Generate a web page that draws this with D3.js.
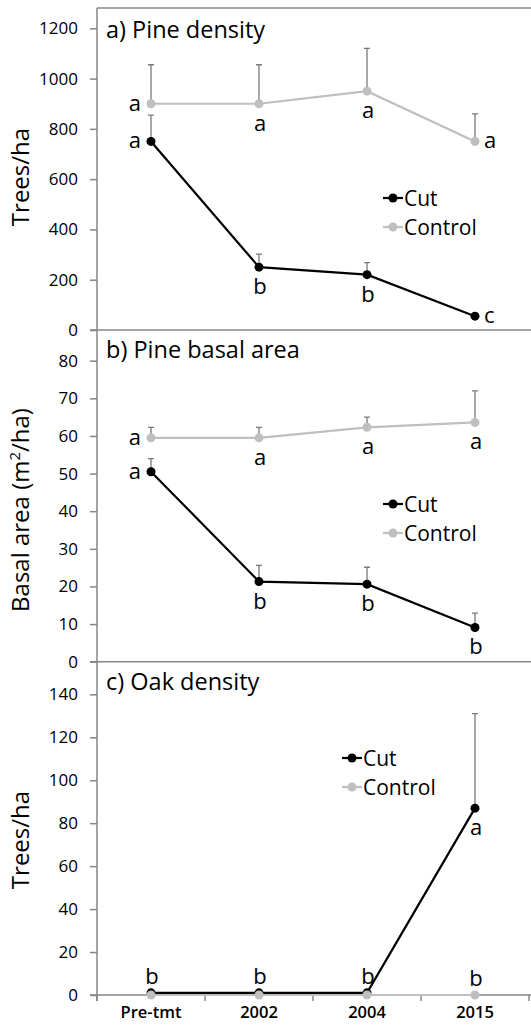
<!DOCTYPE html>
<html>
<head>
<meta charset="utf-8">
<script src="https://cdn.jsdelivr.net/npm/d3@7"></script>
<style>
  body { margin: 0; background: #fff; }
  svg { display: block; font-family: "Open Sans", sans-serif; }
</style>
</head>
<body>
<svg id="chart" width="531" height="1034"></svg>
<script>
// Categories along the x axis
const categories = ["Pre-tmt", "2002", "2004", "2015"];
const seriesNames = ["Cut", "Control"];

// a) Pine density (trees/ha)
const pineDensityCut = [750, 250, 220, 55];
const pineDensityCutErr = [105, 52, 48, 0];
const pineDensityControl = [900, 900, 950, 750];
const pineDensityControlErr = [155, 155, 170, 110];
const pineDensityCutLetters = ["a", "b", "b", "c"];
const pineDensityControlLetters = ["a", "a", "a", "a"];
const pineDensityTicks = [0, 200, 400, 600, 800, 1000, 1200];

// b) Pine basal area (m2/ha)
const basalCut = [50.5, 21.3, 20.6, 9.1];
const basalCutErr = [3.5, 4.3, 4.5, 3.8];
const basalControl = [59.5, 59.5, 62.3, 63.6];
const basalControlErr = [2.8, 2.8, 2.7, 8.4];
const basalCutLetters = ["a", "b", "b", "b"];
const basalControlLetters = ["a", "a", "a", "a"];
const basalTicks = [0, 10, 20, 30, 40, 50, 60, 70, 80];

// c) Oak density (trees/ha)
const oakCut = [1, 1, 1, 87];
const oakCutErr = [0, 0, 0, 44];
const oakControl = [0, 0, 0, 0];
const oakControlErr = [0, 0, 0, 0];
const oakCutLetters = ["b", "b", "b", "a"];
const oakControlLetters = ["", "", "", "b"];
const oakTicks = [0, 20, 40, 60, 80, 100, 120, 140];

const black = "#000000";
const grey = "#bfbfbf";
const axisGrey = "#868686";
const errGrey = "#7a7a7a";

const svg = d3.select("#chart");

// Shared x scale across the three stacked panels
const x = d3.scaleBand().domain(categories).range([97, 529]);
const cx = d => x(d) + x.bandwidth() / 2;

// Panel layout: vertical pixel ranges and label placements
const panels = [
    {
        title: "a) Pine density", yLabel: "Trees/ha", yLabelSup: null,
        top: 8, bottom: 330, yTopPx: 28.3, domainMax: 1200, ticks: pineDensityTicks,
        cut: pineDensityCut, cutErr: pineDensityCutErr, ctl: pineDensityControl, ctlErr: pineDensityControlErr,
        cutLet: pineDensityCutLetters, ctlLet: pineDensityControlLetters,
        cutPos: ["left", "below", "below", "right"], ctlPos: ["left", "below", "below", "right"],
        legendX: 383, legendY: 198, titleY: 38, labelY: 177
    },
    {
        title: "b) Pine basal area", yLabel: "Basal area (m", yLabelSup: "/ha)",
        top: 330, bottom: 661.7, yTopPx: 360.7, domainMax: 80, ticks: basalTicks,
        cut: basalCut, cutErr: basalCutErr, ctl: basalControl, ctlErr: basalControlErr,
        cutLet: basalCutLetters, ctlLet: basalControlLetters,
        cutPos: ["left", "below", "below", "below"], ctlPos: ["left", "below", "below", "below"],
        legendX: 383, legendY: 504, titleY: 358, labelY: 510
    },
    {
        title: "c) Oak density", yLabel: "Trees/ha", yLabelSup: null,
        top: 661.7, bottom: 995, yTopPx: 694.3, domainMax: 140, ticks: oakTicks,
        cut: oakCut, cutErr: oakCutErr, ctl: oakControl, ctlErr: oakControlErr,
        cutLet: oakCutLetters, ctlLet: oakControlLetters,
        cutPos: ["above", "above", "above", "below"], ctlPos: ["above", "above", "above", "above"],
        legendX: 342, legendY: 758, titleY: 690, labelY: 840
    }
];

panels.forEach((p, i) => {
    const y = d3.scaleLinear().domain([0, p.domainMax]).range([p.bottom, p.yTopPx]);
    const g = svg.append("g");

    // Frame: top border line of the first panel
    if (i === 0) {
        g.append("line").attr("x1", 97).attr("x2", 531).attr("y1", p.top).attr("y2", p.top)
            .attr("stroke", axisGrey).attr("stroke-width", 1.5);
    }

    // Y axis
    const yAxis = g.append("g").attr("transform", "translate(97,0)")
        .call(d3.axisLeft(y).tickValues(p.ticks).tickSize(7).tickPadding(12).tickFormat(d3.format("d")));
    yAxis.select(".domain").remove();
    yAxis.selectAll(".tick line").attr("stroke", axisGrey).attr("stroke-width", 1.5);
    yAxis.selectAll(".tick text").attr("font-size", 17).attr("fill", black)
        .attr("font-family", "Open Sans, sans-serif");

    // Vertical axis line for the panel
    g.append("line").attr("x1", 97).attr("x2", 97)
        .attr("y1", p.top).attr("y2", i === 2 ? p.bottom + 6 : p.bottom)
        .attr("stroke", axisGrey).attr("stroke-width", 1.5);

    // X axis line
    g.append("line").attr("x1", 90).attr("x2", 531).attr("y1", p.bottom).attr("y2", p.bottom)
        .attr("stroke", axisGrey).attr("stroke-width", 1.5);

    if (i === 2) {
        const xAxis = g.append("g").attr("transform", `translate(0,${p.bottom})`)
            .call(d3.axisBottom(x).tickSize(0).tickPadding(11));
        xAxis.select(".domain").remove();
        xAxis.selectAll(".tick text").attr("font-size", 16.5).attr("font-weight", 600).attr("fill", black)
            .attr("font-family", "Open Sans, sans-serif");
        // boundary tick marks between categories
        g.selectAll(".bound").data(categories.concat(["end"])).enter().append("line")
            .attr("x1", (d, j) => 97 + j * x.bandwidth())
            .attr("x2", (d, j) => 97 + j * x.bandwidth())
            .attr("y1", p.bottom).attr("y2", p.bottom + 6)
            .attr("stroke", axisGrey).attr("stroke-width", 1.5);
    }

    // Panel title
    g.append("text").attr("x", 106).attr("y", p.titleY).attr("font-size", 23.5).attr("fill", black)
        .text(p.title);

    // Y axis label
    const yl = g.append("text").attr("transform", `translate(29,${p.labelY}) rotate(-90)`)
        .attr("text-anchor", "middle").attr("font-size", 24).attr("fill", black);
    yl.append("tspan").text(p.yLabel);
    if (p.yLabelSup) {
        yl.append("tspan").attr("font-size", 15).attr("dy", -9).text("2");
        yl.append("tspan").attr("dy", 9).text(p.yLabelSup);
    }

    const series = [
        { vals: p.cut, err: p.cutErr, color: black, lets: p.cutLet, pos: p.cutPos },
        { vals: p.ctl, err: p.ctlErr, color: grey, lets: p.ctlLet, pos: p.ctlPos }
    ];

    series.forEach(s => {
        // Error bars (upper only)
        g.selectAll(null).data(categories.filter((c, j) => s.err[j] > 0)).enter().append("path")
            .attr("d", c => {
                const j = categories.indexOf(c);
                const xx = cx(c), y0 = y(s.vals[j]), y1 = y(s.vals[j] + s.err[j]);
                return `M${xx},${y0}V${y1}M${xx - 3},${y1}H${xx + 3}`;
            })
            .attr("stroke", errGrey).attr("stroke-width", 1.3).attr("fill", "none");

        const line = d3.line().x((d, j) => cx(categories[j])).y(d => y(d));
        g.append("path").datum(s.vals).attr("d", line)
            .attr("fill", "none").attr("stroke", s.color).attr("stroke-width", 2.2);

        g.selectAll(null).data(s.vals).enter().append("circle")
            .attr("cx", (d, j) => cx(categories[j])).attr("cy", d => y(d))
            .attr("r", 4.5).attr("fill", s.color);

        // Significance letters
        g.selectAll(null).data(s.lets).enter().append("text")
            .attr("x", (d, j) => {
                const xx = cx(categories[j]);
                if (s.pos[j] === "left") return xx - 10;
                if (s.pos[j] === "right") return xx + 9;
                return xx + 1;
            })
            .attr("y", (d, j) => {
                const yy = y(s.vals[j]);
                if (s.pos[j] === "below") return yy + 27;
                if (s.pos[j] === "above") return yy - 9;
                return yy + 7;
            })
            .attr("text-anchor", (d, j) => s.pos[j] === "left" ? "end" : s.pos[j] === "right" ? "start" : "middle")
            .attr("font-size", 22).attr("fill", black)
            .text(d => d);
    });

    // Legend
    const lg = g.append("g").attr("transform", `translate(${p.legendX},${p.legendY})`);
    [black, grey].forEach((col, k) => {
        const row = lg.append("g").attr("transform", `translate(0,${k * 29})`);
        row.append("line").attr("x1", 0).attr("x2", 20).attr("y1", 0).attr("y2", 0)
            .attr("stroke", col).attr("stroke-width", 2.2);
        row.append("circle").attr("cx", 10).attr("cy", 0).attr("r", 4.5).attr("fill", col);
        row.append("text").attr("x", 21).attr("y", 7.5).attr("font-size", 21).attr("fill", black)
            .text(seriesNames[k]);
    });
});
</script>
</body>
</html>
